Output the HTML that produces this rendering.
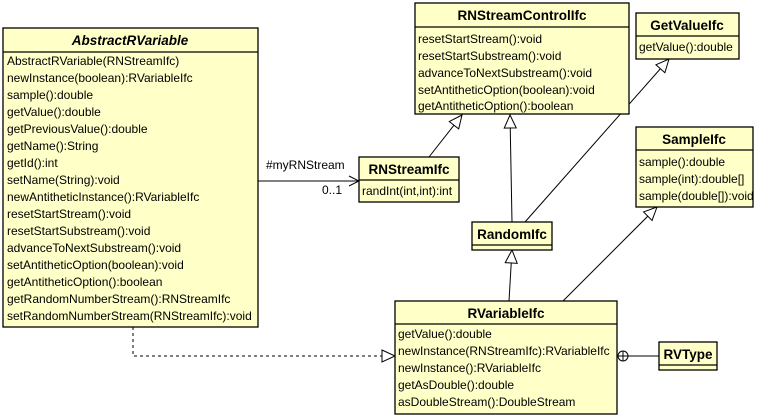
<!DOCTYPE html>
<html><head><meta charset="utf-8"><style>
body{margin:0;background:#fff}
svg{display:block;font-family:"Liberation Sans",Arial,sans-serif}
.b{fill:#ffffc8;stroke:#000;stroke-width:1.3}
.t{font-size:12px;fill:#000}
.h{font-size:13.5px;font-weight:bold;text-anchor:middle}
</style></head><body>
<svg width="762" height="418" viewBox="0 0 762 418">
<defs>
<marker id="tri" markerWidth="16" markerHeight="16" refX="14" refY="8" orient="auto" markerUnits="userSpaceOnUse">
<path d="M1,2 L14,8 L1,14 Z" fill="#fff" stroke="#000" stroke-width="1"/></marker>
<marker id="open" markerWidth="12" markerHeight="12" refX="11" refY="6" orient="auto" markerUnits="userSpaceOnUse">
<path d="M1,1 L11,6 L1,11" fill="none" stroke="#000" stroke-width="1"/></marker>
</defs>
<g stroke="#000" stroke-width="1" fill="none">
<path d="M133,327 V356 H395" stroke-dasharray="3,3" marker-end="url(#tri)"/>
<line x1="258" y1="181" x2="359" y2="181" marker-end="url(#open)"/>
<line x1="429" y1="157" x2="462" y2="115" marker-end="url(#tri)"/>
<line x1="512" y1="222" x2="510" y2="115" marker-end="url(#tri)"/>
<line x1="525" y1="222" x2="669" y2="59" marker-end="url(#tri)"/>
<line x1="509" y1="301" x2="512" y2="250" marker-end="url(#tri)"/>
<line x1="563" y1="301" x2="657" y2="207" marker-end="url(#tri)"/>
<line x1="617" y1="356" x2="659" y2="356"/>
<circle cx="623" cy="356" r="5" fill="#fff"/>
<line x1="618" y1="356" x2="628" y2="356"/><line x1="623" y1="351" x2="623" y2="361"/>
</g>
<text class="t" x="266" y="169">#myRNStream</text>
<text class="t" x="322" y="194">0..1</text>

<rect class="b" x="3" y="28" width="255" height="299"/>
<line x1="3" y1="52" x2="258" y2="52" stroke="#000" stroke-width="1.3"/>
<text class="h" x="130" y="45" font-style="italic">AbstractRVariable</text>
<g class="t">
<text x="7" y="65">AbstractRVariable(RNStreamIfc)</text>
<text x="7" y="82">newInstance(boolean):RVariableIfc</text>
<text x="7" y="99">sample():double</text>
<text x="7" y="116">getValue():double</text>
<text x="7" y="133">getPreviousValue():double</text>
<text x="7" y="150">getName():String</text>
<text x="7" y="167">getId():int</text>
<text x="7" y="184">setName(String):void</text>
<text x="7" y="201">newAntitheticInstance():RVariableIfc</text>
<text x="7" y="218">resetStartStream():void</text>
<text x="7" y="235">resetStartSubstream():void</text>
<text x="7" y="252">advanceToNextSubstream():void</text>
<text x="7" y="269">setAntitheticOption(boolean):void</text>
<text x="7" y="286">getAntitheticOption():boolean</text>
<text x="7" y="303">getRandomNumberStream():RNStreamIfc</text>
<text x="7" y="320">setRandomNumberStream(RNStreamIfc):void</text>
</g>

<rect class="b" x="415" y="3" width="214" height="111"/>
<line x1="415" y1="27" x2="629" y2="27" stroke="#000" stroke-width="1.3"/>
<text class="h" x="522" y="20">RNStreamControlIfc</text>
<g class="t">
<text x="418" y="43">resetStartStream():void</text>
<text x="418" y="60">resetStartSubstream():void</text>
<text x="418" y="77">advanceToNextSubstream():void</text>
<text x="418" y="94">setAntitheticOption(boolean):void</text>
<text x="418" y="110">getAntitheticOption():boolean</text>
</g>

<rect class="b" x="636" y="13" width="103" height="46"/>
<line x1="636" y1="36" x2="739" y2="36" stroke="#000" stroke-width="1.3"/>
<text class="h" x="687" y="30">GetValueIfc</text>
<text class="t" x="639" y="51">getValue():double</text>

<rect class="b" x="636" y="127" width="117" height="80"/>
<line x1="636" y1="150" x2="753" y2="150" stroke="#000" stroke-width="1.3"/>
<text class="h" x="694" y="144">SampleIfc</text>
<g class="t">
<text x="639" y="166">sample():double</text>
<text x="639" y="183">sample(int):double[]</text>
<text x="639" y="200">sample(double[]):void</text>
</g>

<rect class="b" x="359" y="157" width="100" height="45"/>
<line x1="359" y1="180" x2="459" y2="180" stroke="#000" stroke-width="1.3"/>
<text class="h" x="409" y="174">RNStreamIfc</text>
<text class="t" x="362" y="195">randInt(int,int):int</text>

<rect class="b" x="472" y="222" width="80" height="28"/>
<line x1="472" y1="245" x2="552" y2="245" stroke="#000" stroke-width="1.3"/>
<text class="h" x="512" y="239">RandomIfc</text>

<rect class="b" x="395" y="301" width="222" height="113"/>
<line x1="395" y1="324" x2="617" y2="324" stroke="#000" stroke-width="1.3"/>
<text class="h" x="506" y="318">RVariableIfc</text>
<g class="t">
<text x="398" y="338">getValue():double</text>
<text x="398" y="355">newInstance(RNStreamIfc):RVariableIfc</text>
<text x="398" y="372">newInstance():RVariableIfc</text>
<text x="398" y="389">getAsDouble():double</text>
<text x="398" y="406">asDoubleStream():DoubleStream</text>
</g>

<rect class="b" x="659" y="342" width="58" height="28"/>
<line x1="659" y1="365" x2="717" y2="365" stroke="#000" stroke-width="1.3"/>
<text class="h" x="688" y="359">RVType</text>
</svg>
</body></html>
